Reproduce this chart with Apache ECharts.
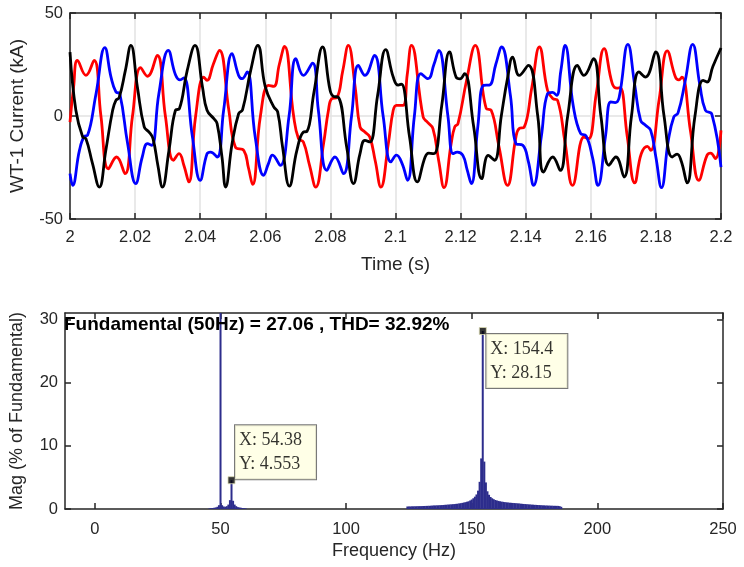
<!DOCTYPE html>
<html>
<head>
<meta charset="utf-8">
<script src="https://cdn.jsdelivr.net/npm/echarts@6/dist/echarts.min.js"></script>
<style>html,body{margin:0;padding:0;background:#fff}#c{width:744px;height:567px}</style>
</head>
<body>
<div id="c"></div>
<script>
// ---------- top plot: time in ms after t = 2 s, current in kA ----------
const timeTicks = [0, 20, 40, 60, 80, 100, 120, 140, 160, 180, 200];
const redT = [0,1.1,2.3,4.9,7.4,9.5,11.8,14.3,16.9,19.2,21.7,23.8,26.8,29.3,31.8,33.5,35,36.5,38.6,41.1,42.1,44,45.9,48.8,50.8,53.4,54.8,56.1,58.5,61,62.6,64.3,65.9,68.7,70.2,71.7,73.6,75.5,77.9,79.4,80.4,82,83.8,85.5,87.6,89.1,90.6,92.1,93.8,95.5,97.8,99.3,100.3,102.3,103.6,104.9,108.5,109.8,111.5,113.3,114.9,117.1,118.2,119.2,121.8,124.5,127.9,129.4,131.8,134.4,137,138,139.5,141.9,144.2,146.7,148.3,149.8,152.1,154.4,157.9,159.3,161.7,164.1,166.6,168,169,171.2,173.5,175.5,177.4,178.4,181,183.5,186,187,188,190.6,193.2,195.7,196.8,198.3,200];
const redV = [-3,14,27,19.7,27,0,-25.6,-19.9,-28,0,23.5,19.3,29.4,0,-21.5,-18.3,-24,-32,0,18.9,17.3,25,31.9,2.8,-15,-16.7,-25,-33.2,0,14.9,14.4,25,33.8,0,-11,-12.6,-24,-34.5,-13.4,2.8,8.4,9,22,34.3,14.1,-5.3,-7.8,-10.2,-22,-34.5,-13.4,2.8,5.2,5.2,20,34.3,-0.5,-3,-6.1,-22,-34.8,-13.4,-5.3,-3.7,17,34.3,3.6,2.8,-15,-33.7,-10.2,-6.1,-5.5,14,33.5,12.5,8.5,7.6,-13,-33.7,-10.2,-11,11,32.7,15.7,13.5,13.8,-10,-32.5,-18.3,-14.7,-16.7,8,31.6,18.9,17.5,18.9,-7,-31.2,-19.1,-18,-20.7,-7];
const blueT = [0,0.8,2.9,4.4,5.4,8,10.7,12.6,14.1,15.3,17.7,20.2,22.2,23.8,25.1,27.3,30.2,32.4,33.8,35,37.6,40,42.1,43.2,45.2,47.2,49.8,51.8,52.9,54.4,56.9,59.5,61,62.2,64.6,67.3,69.4,71.7,74.5,76.3,78.9,81.4,84,86.5,88.6,90.6,93.5,96.2,98.6,100.3,102,103.7,105.8,107.8,110,111.8,113.3,116.1,117.7,119,120.7,122,123.3,125.3,127.1,128.8,130.8,132.6,135.3,137,139.1,140.8,142.4,144.8,146.7,148.3,149.5,150.8,152.1,154.6,156.9,158.5,160.5,162.2,164.5,166.1,167.5,168.7,171.4,173.5,175.3,176.8,178.4,180,181.7,183.8,185.5,186.8,189,191.3,193.5,195.2,197.2,200];
const blueV = [-28,-33.7,-16.7,-9.9,-9.4,10.8,33.2,18.9,11.7,10.8,-13.4,-32.8,-19.9,-13.4,-14.2,10.8,31.9,20,17.5,18.5,-10,-31.2,-18.3,-17.5,-19.9,2.8,30.3,19.7,18.1,21.4,-10.2,-28.8,-23,-19,-24,0,27.8,19.7,25.7,2.8,-26.4,-19.9,-28,0,24.6,19.7,29.4,0,-22.3,-19,-23,-31.2,0,20.6,18.1,25,31.9,0,-18.3,-17.5,-19.1,-26,-32.8,-5,14.9,15,25,33.5,10,-13.4,-14.2,-22,-33.7,-10,10.8,11.5,10,22,34.3,5,-8.6,-9.5,-20,-33.7,-10,6.8,6.5,9,34.8,15,-2.1,-4.5,-7,-20,-34.8,-12,-0.5,1.5,17,34.8,15,2.8,0.8,-24.8];
const blackT = [0,1.8,3.9,4.9,6.9,9,11,13.1,14.1,15.1,17,18.7,20.7,22.8,24.3,25.5,27,28.4,30.4,32.4,33.6,36,38.4,40.7,42.1,44.2,45.2,46.7,47.8,49.8,51.8,53,55.5,57.7,60,62.6,63.8,65.3,67.4,69.7,71.7,72.8,75,77.6,79.9,81,82.4,85,87.1,89.1,90.6,92.1,94.5,97,99.3,100.8,101.8,104.3,106.7,109.1,110.2,111.8,114.2,116.6,118.6,119.8,121.2,124,126.5,128.5,130.4,132.5,134.5,136,138,140.8,143.7,145.5,148.3,150.6,152.9,155.9,157.9,160.8,163.1,165.6,167.7,170.2,172.5,174.8,176.8,179.9,182.5,185,186.5,187.8,189.6,192,194.5,195.7,197.5,200];
const blackV = [31,2.8,-10.2,-11,-23,-34.5,-16.7,2.8,7.6,8.9,22,34.3,14.1,-5.3,-7.8,-11,-24,-34.5,-16.7,2.8,3.5,22,34.3,14.1,2.8,-1.3,-3.7,-20,-34.5,-13.4,1.1,3,22,34.3,14.1,4.4,2,-15,-34,-16.7,-7.8,-7.5,12,33.5,12.5,9.5,9.2,-15,-32.8,-18.3,-11.8,-12.6,10,32.2,18.9,15,15.5,-10,-32,-19.9,-18,-18.3,5,31.1,18.9,18,20.6,-5,-30.4,-19.1,-21.5,0,19,28.6,19.7,24.6,0,-27.2,-19.9,-26.4,0,24.6,19.7,27.8,0,-23.9,-19.9,-29.6,0,21.4,18.9,31.1,0,-19.9,-18.5,-22,-32.5,0,17.3,16.5,24,33];

// ---------- bottom plot: FFT spectrum, % of fundamental ----------
const freqTicks = [0, 50, 100, 150, 200, 250];
const magTicks = [0, 10, 20, 30];
const specF = [45.625,46.25,46.875,47.5,48.125,48.75,49.375,50,50.625,51.25,51.875,52.5,53.125,53.75,54.375,55,55.625,56.25,56.875,57.5,58.125,58.75,59.375,60,
124.375,125,125.625,126.25,126.875,127.5,128.125,128.75,129.375,130,130.625,131.25,131.875,132.5,133.125,133.75,134.375,135,135.625,136.25,136.875,137.5,138.125,138.75,139.375,140,140.625,141.25,141.875,142.5,143.125,143.75,144.375,145,145.625,146.25,146.875,147.5,148.125,148.75,149.375,150,150.625,151.25,151.875,152.5,153.125,153.75,154.375,155,155.625,156.25,156.875,157.5,158.125,158.75,159.375,160,160.625,161.25,161.875,162.5,163.125,163.75,164.375,165,165.625,166.25,166.875,167.5,168.125,168.75,169.375,170,170.625,171.25,171.875,172.5,173.125,173.75,174.375,175,175.625,176.25,176.875,177.5,178.125,178.75,179.375,180,180.625,181.25,181.875,182.5,183.125,183.75,184.375,185,185.625];
const specV = [0.1,0.12,0.15,0.2,0.25,0.35,0.6,100,0.6,0.4,0.35,0.45,0.7,1.4,4.553,1.3,0.7,0.45,0.3,0.25,0.2,0.15,0.12,0.1,
0.4,0.4,0.41,0.42,0.43,0.43,0.44,0.45,0.45,0.46,0.47,0.48,0.49,0.5,0.51,0.52,0.55,0.56,0.57,0.58,0.59,0.61,0.62,0.64,0.66,0.68,0.7,0.72,0.74,0.76,0.78,0.81,0.84,0.88,0.92,0.97,1.02,1.08,1.15,1.22,1.35,1.5,1.7,1.95,2.3,2.9,4.3,8,28.15,7.5,4.2,2.8,2.25,1.9,1.7,1.55,1.42,1.35,1.28,1.22,1.17,1.13,1.09,1.06,1.03,1,0.98,0.96,0.94,0.92,0.9,0.88,0.85,0.82,0.8,0.78,0.76,0.74,0.72,0.7,0.68,0.66,0.65,0.63,0.62,0.6,0.59,0.57,0.56,0.55,0.54,0.53,0.52,0.51,0.5,0.5,0.49,0.45,0.35];
const tipX = [54.38, 154.4];
const tipY = [4.553, 28.15];
const tipOffset = [[7.5, -51], [7.5, 7]];
const fundamentalText = 'Fundamental (50Hz) = 27.06 , THD= 32.92%';

const zip = (a, b) => a.map((v, i) => [v, b[i]]);
const AX = '#262626';
const FONT = 'Liberation Sans';
const lineAxis = { onZero: false, lineStyle: { color: AX, width: 1.5 } };
const tick = (extra) => Object.assign({ inside: true, length: 6, lineStyle: { color: AX, width: 1.5 } }, extra || {});
const lbl = (extra) => Object.assign({ color: AX, fontSize: 16.5, fontFamily: FONT }, extra || {});
const nameTop = { color: AX, fontSize: 19, fontFamily: FONT };
const nameBottom = { color: AX, fontSize: 18, fontFamily: FONT };

const chart = echarts.init(document.getElementById('c'), null, { renderer: 'canvas' });
chart.setOption({
  animation: false,
  backgroundColor: '#fff',
  title: {
    text: fundamentalText, left: 64, top: 315, padding: 0,
    textStyle: { fontFamily: FONT, fontWeight: 'bold', fontSize: 19, color: '#000' }
  },
  grid: [
    { left: 68, right: 23, top: 13, height: 206, containLabel: false },
    { left: 63, right: 21, top: 313, height: 196, containLabel: false }
  ],
  xAxis: [
    { gridIndex: 0, type: 'value', min: 0, max: 200, interval: 20, position: 'bottom',
      axisLine: lineAxis, axisTick: tick(),
      axisLabel: lbl({ margin: 10, formatter: v => String(+(2 + v / 1000).toFixed(2)) }),
      splitLine: { show: true, lineStyle: { color: '#e2e2e2', width: 1.5 } },
      name: 'Time (s)', nameLocation: 'middle', nameGap: 36, nameTextStyle: nameTop },
    { gridIndex: 0, type: 'value', min: 0, max: 200, interval: 20, position: 'top',
      axisLine: lineAxis, axisTick: tick(), axisLabel: { show: false }, splitLine: { show: false } },
    { gridIndex: 1, type: 'value', min: -11.9, max: 250, position: 'bottom',
      axisLine: lineAxis, axisTick: tick({ customValues: freqTicks }),
      axisLabel: lbl({ margin: 12, customValues: freqTicks }),
      splitLine: { show: false },
      name: 'Frequency (Hz)', nameLocation: 'middle', nameGap: 33, nameTextStyle: nameBottom },
    { gridIndex: 1, type: 'value', min: -11.9, max: 250, position: 'top',
      axisLine: lineAxis, axisTick: tick({ customValues: freqTicks }),
      axisLabel: { show: false }, splitLine: { show: false } }
  ],
  yAxis: [
    { gridIndex: 0, type: 'value', min: -50, max: 50, interval: 50, position: 'left',
      axisLine: lineAxis, axisTick: tick(), axisLabel: lbl({ margin: 7 }),
      splitLine: { show: true, lineStyle: { color: '#e2e2e2', width: 1.5 } },
      name: 'WT-1 Current (kA)', nameLocation: 'middle', nameGap: 43, nameTextStyle: nameTop },
    { gridIndex: 0, type: 'value', min: -50, max: 50, interval: 50, position: 'right',
      axisLine: lineAxis, axisTick: tick(), axisLabel: { show: false }, splitLine: { show: false } },
    { gridIndex: 1, type: 'value', min: 0, max: 31, position: 'left',
      axisLine: lineAxis, axisTick: tick({ customValues: magTicks }),
      axisLabel: lbl({ margin: 7, customValues: magTicks }), splitLine: { show: false },
      name: 'Mag (% of Fundamental)', nameLocation: 'middle', nameGap: 39, nameTextStyle: nameBottom },
    { gridIndex: 1, type: 'value', min: 0, max: 31, position: 'right',
      axisLine: lineAxis, axisTick: tick({ customValues: magTicks }),
      axisLabel: { show: false }, splitLine: { show: false } }
  ],
  series: [
    { type: 'line', xAxisIndex: 0, yAxisIndex: 0, data: zip(redT, redV), smooth: 0.45, showSymbol: false,
      lineStyle: { color: '#ff0000', width: 2.8 }, z: 3 },
    { type: 'line', xAxisIndex: 0, yAxisIndex: 0, data: zip(blueT, blueV), smooth: 0.45, showSymbol: false,
      lineStyle: { color: '#0000ff', width: 2.8 }, z: 3 },
    { type: 'line', xAxisIndex: 0, yAxisIndex: 0, data: zip(blackT, blackV), smooth: 0.45, showSymbol: false,
      lineStyle: { color: '#000000', width: 2.8 }, z: 3 },
    { type: 'bar', xAxisIndex: 2, yAxisIndex: 2, data: zip(specF, specV), barWidth: 2, clip: true,
      itemStyle: { color: '#2d2d8c' }, z: 3 },
    { type: 'scatter', xAxisIndex: 2, yAxisIndex: 2, symbol: 'rect', symbolSize: 7,
      data: tipX.map((x, i) => ({ value: [x, tipY[i]], label: { position: tipOffset[i] } })),
      itemStyle: { color: '#000', borderColor: '#d8d8b0', borderWidth: 1 }, z: 5,
      label: {
        show: true,
        formatter: p => 'X: ' + p.value[0] + '\nY: ' + p.value[1],
        fontFamily: 'Liberation Serif', fontSize: 18, lineHeight: 24, color: '#000',
        backgroundColor: '#ffffe1', borderColor: '#555', borderWidth: 1, padding: [3, 14, 3, 4], align: 'left', verticalAlign: 'top'
      }
    }
  ]
});
</script>
</body>
</html>
